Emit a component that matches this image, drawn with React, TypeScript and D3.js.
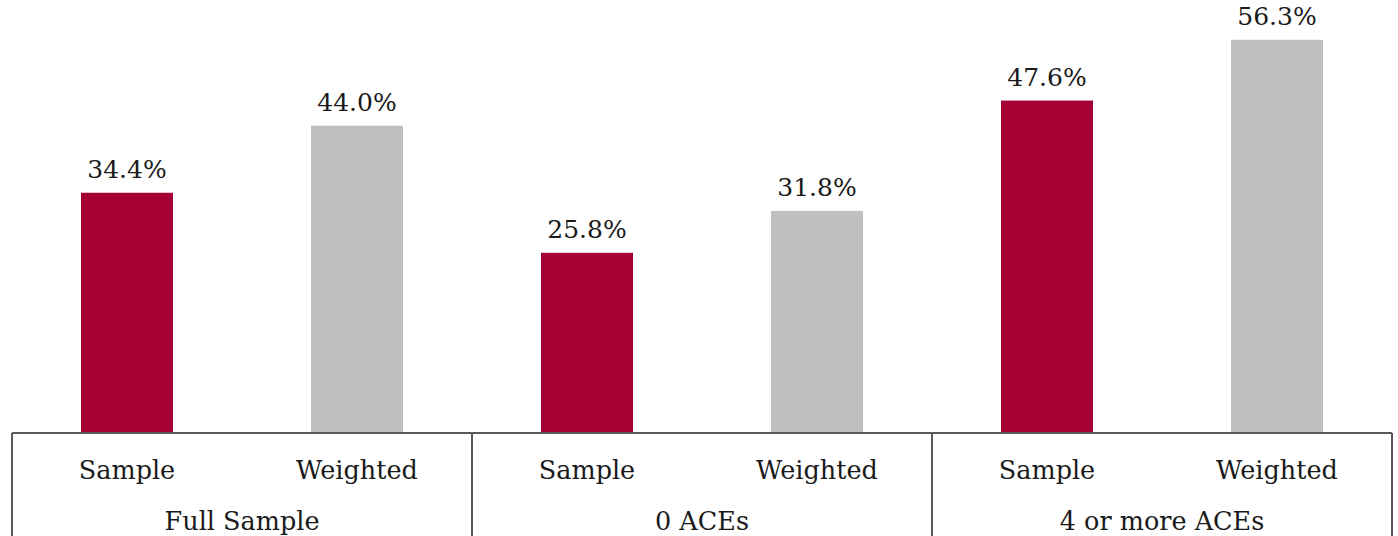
import React, { useRef, useEffect } from 'react';
import * as d3 from 'd3';

const groups = ['Full Sample', '0 ACEs', '4 or more ACEs'];
const series = ['Sample', 'Weighted'];
const sampleValues = [34.4, 25.8, 47.6];
const weightedValues = [44.0, 31.8, 56.3];

const colors: Record<string, string> = { Sample: '#A50034', Weighted: '#BFBFBF' };

export default function App() {
  const svgRef = useRef<SVGSVGElement>(null);

  useEffect(() => {
    const svg = d3.select(svgRef.current);
    const width = 1398;
    const height = 536;
    const left = 12;
    const right = 1392;
    const baseline = 433;

    svg.selectAll('*').remove();

    const rows = groups.flatMap((g, i) => [
      { group: g, series: 'Sample', value: sampleValues[i] },
      { group: g, series: 'Weighted', value: weightedValues[i] }
    ]);

    const x0 = d3.scaleBand().domain(groups).range([left, right]);
    const x1 = d3.scaleBand().domain(series).range([0, x0.bandwidth()]).paddingInner(0.6).paddingOuter(0.3);

    const y = d3.scaleLinear().domain([0, 62]).range([baseline, 0]);

    svg.append('g')
      .selectAll('rect')
      .data(rows)
      .join('rect')
      .attr('x', d => x0(d.group)! + x1(d.series)!)
      .attr('y', d => y(d.value))
      .attr('width', x1.bandwidth())
      .attr('height', d => baseline - y(d.value))
      .attr('fill', d => colors[d.series]);

    svg.append('g')
      .selectAll('text')
      .data(rows)
      .join('text')
      .attr('x', d => x0(d.group)! + x1(d.series)! + x1.bandwidth() / 2)
      .attr('y', d => y(d.value) - 15)
      .attr('text-anchor', 'middle')
      .attr('font-family', 'DejaVu Serif')
      .attr('font-size', 25)
      .attr('fill', '#1a1a1a')
      .text(d => d.value.toFixed(1) + '%');

    // category axis box
    const axis = svg.append('g').attr('stroke', '#595959').attr('stroke-width', 2);
    axis.append('line').attr('x1', left).attr('x2', right).attr('y1', baseline).attr('y2', baseline);
    const edges = [left, ...groups.map(g => x0(g)! + x0.bandwidth())];
    axis.selectAll('line.sep')
      .data(edges)
      .join('line')
      .attr('class', 'sep')
      .attr('x1', d => d).attr('x2', d => d)
      .attr('y1', baseline).attr('y2', height);

    svg.append('g')
      .selectAll('text')
      .data(rows)
      .join('text')
      .attr('x', d => x0(d.group)! + x1(d.series)! + x1.bandwidth() / 2)
      .attr('y', 479)
      .attr('text-anchor', 'middle')
      .attr('font-family', 'DejaVu Serif')
      .attr('font-size', 25.5)
      .attr('fill', '#1a1a1a')
      .text(d => d.series);

    svg.append('g')
      .selectAll('text')
      .data(groups)
      .join('text')
      .attr('x', d => x0(d)! + x0.bandwidth() / 2)
      .attr('y', 530)
      .attr('text-anchor', 'middle')
      .attr('font-family', 'DejaVu Serif')
      .attr('font-size', 25.5)
      .attr('fill', '#1a1a1a')
      .text(d => d);

    svg.attr('viewBox', `0 0 ${width} ${height}`);
  }, []);

  return (
    <svg
      ref={svgRef}
      width={1398}
      height={536}
      style={{ position: 'absolute', left: 0, top: 0, background: '#fff' }}
    />
  );
}
